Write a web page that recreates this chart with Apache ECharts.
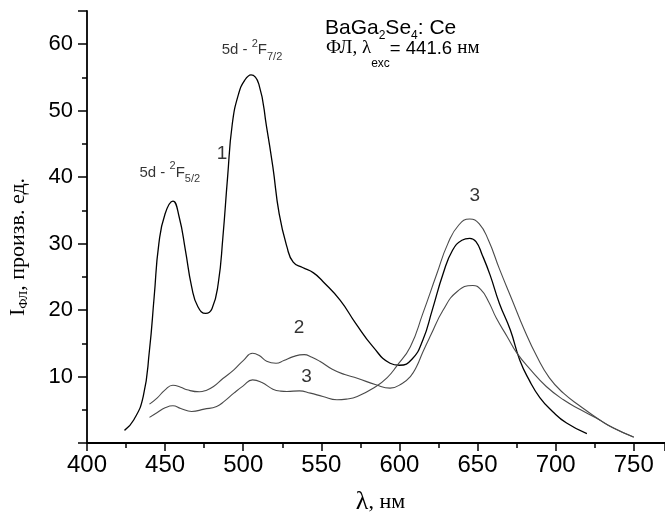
<!DOCTYPE html>
<html>
<head>
<meta charset="utf-8">
<script src="https://cdn.jsdelivr.net/npm/echarts@6/dist/echarts.min.js"></script>
<style>
  html, body { margin: 0; padding: 0; background: #fff; }
  #chart { width: 665px; height: 525px; }
</style>
</head>
<body>
<div id="chart"></div>
<script>
/* ---------- data ---------- */
// curve 1 (black)
var wl1 = [424, 430, 436, 440, 443, 446, 450, 455, 459, 463, 467, 471, 476, 480, 484, 487, 490, 493, 497, 501, 505, 510, 515, 519, 523, 528, 532, 538, 545, 551, 562, 572, 583, 594, 600, 608, 615, 621, 628, 634, 640, 645, 649, 653, 658, 664, 671, 677, 683, 690, 698, 707, 720];
var fl1 = [1.9, 3.5, 7.0, 14, 22, 30, 34.5, 36.4, 34, 29, 23.5, 20.5, 19.5, 20.2, 24, 31, 40, 48, 52.5, 54.6, 55.4, 54, 47.5, 41.5, 34.5, 29.5, 27.2, 26.4, 25.6, 24.3, 21.5, 18, 14.5, 12, 11.7, 12.6, 15.5, 20, 25.5, 29, 30.5, 30.8, 30.3, 28.3, 25.3, 21, 17, 12.5, 9.5, 6.8, 4.75, 3, 1.4];

// curve 2
var wl2 = [440, 445, 450, 455, 460, 464, 472, 476, 481, 487, 494, 500, 506, 510, 515, 521, 526, 532, 539, 544, 549, 557, 565, 573, 585, 594, 602, 607, 611, 615, 620, 628, 637, 647, 652, 657, 662, 669, 675, 684, 694, 705, 716, 726, 737, 750];
var fl2 = [5.85, 6.8, 8.0, 8.7, 8.4, 8.0, 7.7, 7.9, 8.5, 9.7, 11.0, 12.4, 13.5, 13.2, 12.3, 12.0, 12.4, 13.0, 13.3, 12.9, 12.3, 11.1, 10.3, 9.75, 8.75, 8.25, 9.0, 10, 11.5, 13.7, 16.2, 20, 22.8, 23.7, 23.1, 21.3, 18.8, 16, 13.6, 11, 8.5, 6.5, 5, 3.75, 2.25, 0.9];

// curve 3
var wl3 = [440, 445, 450, 455, 460, 467, 475, 483, 488, 494, 500, 506, 512, 519, 524, 528, 536, 543, 551, 560, 566, 573, 585, 592, 598, 607, 615, 624, 631, 638, 645, 651, 657, 664, 672, 680, 688, 696, 705, 716, 728, 737, 750];
var fl3 = [3.85, 4.6, 5.3, 5.6, 5.2, 4.75, 5.1, 5.5, 6.3, 7.5, 8.6, 9.5, 9.1, 8.1, 7.8, 7.75, 7.85, 7.5, 7.0, 6.5, 6.6, 7.0, 8.5, 9.8, 11.5, 14.5, 19.5, 25.5, 30, 32.8, 33.7, 33.0, 30.5, 26.2, 21.6, 17, 13, 9.8, 7.5, 5.5, 3.5, 2.25, 0.85];

// labels placed on the plot (data coordinates)
var annoX = [505.6, 453, 486.5, 535.7, 540.5, 648.3];
var annoY = [59.1, 40.7, 43.5, 17.3, 9.9, 37.2];
var annoText = [
  '{b|5d - }{sup|2}{b|F}{sub|7/2}',
  '{b|5d - }{sup|2}{b|F}{sub|5/2}',
  '{n|1}', '{n|2}', '{n|3}', '{n|3}'
];

/* ---------- chart ---------- */
var SANS = "'Liberation Sans', Arial, sans-serif";
var SERIF = "'Liberation Serif', 'Times New Roman', serif";

function pairs(xs, ys) {
  return xs.map(function (x, i) { return [x, ys[i]]; });
}

var chart = echarts.init(document.getElementById('chart'), null, { renderer: 'canvas' });

var option = {
  animation: false,
  backgroundColor: '#fff',
  grid: { left: 87, right: 0, top: 11, bottom: 82, containLabel: false },
  xAxis: {
    type: 'value',
    min: 400, max: 770, interval: 50,
    axisLine: { show: true, onZero: false, lineStyle: { color: '#000', width: 1.8 } },
    axisTick: { show: true, inside: false, length: 8, lineStyle: { color: '#000', width: 1.5 } },
    minorTick: { show: true, splitNumber: 2, length: 5, lineStyle: { color: '#000', width: 1.5 } },
    splitLine: { show: false },
    axisLabel: { showMaxLabel: false, color: '#000', fontFamily: SANS, fontSize: 24, margin: 10 },
    name: '{l|λ}{r|, нм}',
    nameLocation: 'middle',
    nameGap: 46,
    nameTextStyle: {
      padding: [0, 0, 0, 9],
      rich: {
        l: { fontFamily: SERIF, fontSize: 26, color: '#000' },
        r: { fontFamily: SERIF, fontSize: 22, color: '#000' }
      }
    }
  },
  yAxis: {
    type: 'value',
    min: 0, max: 65, interval: 10,
    axisLine: { show: true, onZero: false, lineStyle: { color: '#000', width: 1.8 } },
    axisTick: { show: true, inside: false, length: 9, lineStyle: { color: '#000', width: 1.5 } },
    minorTick: { show: true, splitNumber: 2, length: 5, lineStyle: { color: '#000', width: 1.5 } },
    splitLine: { show: false },
    axisLabel: { showMinLabel: false, showMaxLabel: false, color: '#000', fontFamily: SANS, fontSize: 22, margin: 14 }
  },
  series: [
    {
      type: 'line', data: pairs(wl1, fl1), smooth: true, showSymbol: false,
      lineStyle: { color: '#000', width: 1.3 }
    },
    {
      type: 'line', data: pairs(wl2, fl2), smooth: true, showSymbol: false,
      lineStyle: { color: '#4a4a4a', width: 1.1 }
    },
    {
      type: 'line', data: pairs(wl3, fl3), smooth: true, showSymbol: false,
      lineStyle: { color: '#4a4a4a', width: 1.1 }
    },
    {
      // text labels next to the curves
      type: 'scatter', z: 5,
      symbolSize: 1,
      itemStyle: { color: 'rgba(0,0,0,0)' },
      data: annoX.map(function (x, i) { return [x, annoY[i], annoText[i]]; }),
      label: {
        show: true, position: 'inside',
        formatter: function (p) { return p.data[2]; },
        rich: {
          b: { fontFamily: SANS, fontSize: 15, lineHeight: 24, verticalAlign: 'middle', color: '#000' },
          sup: { fontFamily: SANS, fontSize: 11, lineHeight: 11, verticalAlign: 'top', color: '#000' },
          sub: { fontFamily: SANS, fontSize: 11, lineHeight: 11, verticalAlign: 'bottom', color: '#000' },
          n: { fontFamily: SANS, fontSize: 19, color: '#000' }
        }
      }
    }
  ],
  graphic: [
    {
      type: 'text', left: 325, top: 18,
      style: {
        text: '{b|BaGa}{s|2}{b|Se}{s|4}{b|: Ce}',
        rich: {
          b: { fontFamily: SANS, fontSize: 21, lineHeight: 26, verticalAlign: 'middle', fill: '#000' },
          s: { fontFamily: SANS, fontSize: 12, lineHeight: 12, verticalAlign: 'bottom', fill: '#000' }
        }
      }
    },
    {
      type: 'text', left: 326, top: 39,
      style: {
        text: '{r|ФЛ, λ}{s|exc}{a|= 441.6 }{r|нм}',
        rich: {
          r: { fontFamily: SERIF, fontSize: 19, lineHeight: 42, verticalAlign: 'middle', fill: '#000' },
          a: { fontFamily: SANS, fontSize: 18.5, lineHeight: 42, verticalAlign: 'middle', fill: '#000' },
          s: { fontFamily: SANS, fontSize: 12, lineHeight: 12, verticalAlign: 'bottom', fill: '#000' }
        }
      }
    },
    {
      // y axis title, read bottom to top
      type: 'text', x: 18.5, y: 247, rotation: Math.PI / 2,
      style: {
        text: '{r|I}{s|ФЛ}{r|, произв. ед.}',
        align: 'center', verticalAlign: 'middle',
        rich: {
          r: { fontFamily: SERIF, fontSize: 22, lineHeight: 24, verticalAlign: 'middle', fill: '#000' },
          s: { fontFamily: SERIF, fontSize: 13, lineHeight: 13, verticalAlign: 'bottom', fill: '#000' }
        }
      }
    }
  ]
};

chart.setOption(option);
</script>
</body>
</html>
